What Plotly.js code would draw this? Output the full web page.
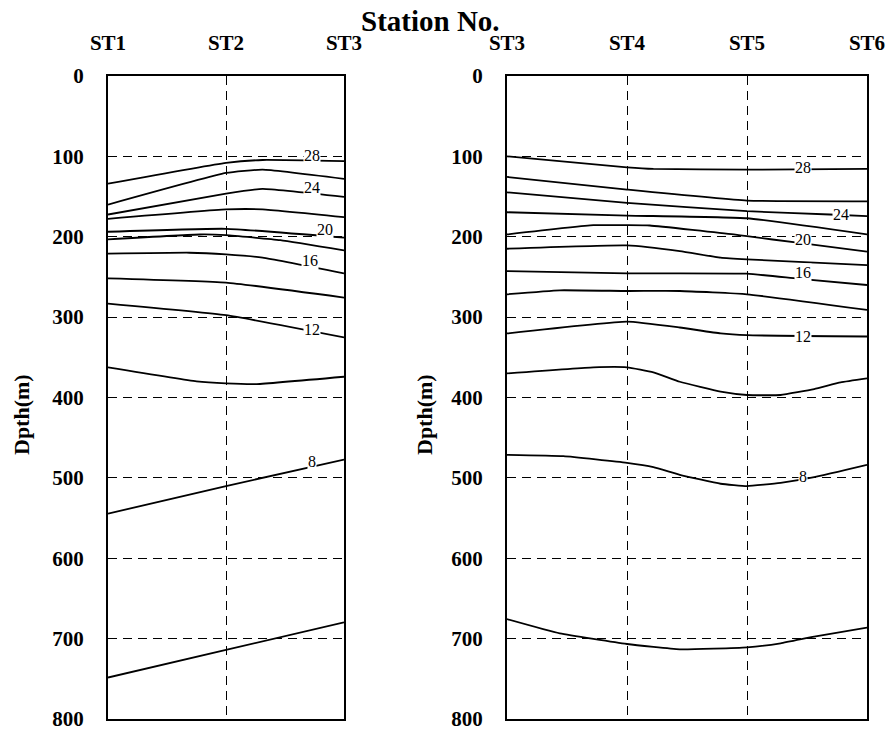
<!DOCTYPE html>
<html>
<head>
<meta charset="utf-8">
<script src="https://cdn.plot.ly/plotly-3.0.1.min.js"></script>
<style>html,body{margin:0;padding:0;background:#fff;}#chart{width:890px;height:735px;}</style>
</head>
<body>
<div id="chart"></div>
<script>
// Station tick labels
const leftStations = ["ST1", "ST2", "ST3"];
const leftStationPos = [1, 2, 3];
const rightStations = ["ST3", "ST4", "ST5", "ST6"];
const rightStationPos = [3, 4, 5, 6];
const depthTicks = [0, 100, 200, 300, 400, 500, 600, 700, 800];

// Left section (ST1-ST3): isotherm x positions (station units) and depths (m)
const L1x = [1, 2, 2.31, 3],            L1d = [134, 108, 104.5, 106];
const L2x = [1, 2, 2.31, 3],            L2d = [160, 120.6, 116.5, 128];
const L3x = [1, 2, 2.31, 3],            L3d = [172.3, 146.3, 140.4, 150.4];
const L4x = [1, 2, 2.31, 3],            L4d = [177.7, 166, 166, 175.7];
const L5x = [1, 2, 3],                  L5d = [193.8, 190.1, 201.2];
const L6x = [1, 1.78, 2, 2.46, 3],      L6d = [203.3, 197.2, 198, 204.2, 217];
const L7x = [1, 1.69, 2, 2.31, 3],      L7d = [221.1, 219.9, 222, 226, 245.5];
const L8x = [1, 2, 3],                  L8d = [251.7, 257, 275.7];
const L9x = [1, 2, 3],                  L9d = [283.1, 297.6, 325.3];
const L10x = [1, 1.75, 2, 2.26, 3],     L10d = [362.5, 379.9, 382.4, 383.3, 374.2];
const L11x = [1, 2, 3],                 L11d = [544.5, 510.2, 477.2];
const L12x = [1, 2, 3],                 L12d = [748.4, 714.1, 679.8];

// Right section (ST3-ST6)
const R1x = [3, 4, 4.22, 5, 6],                 R1d = [99.9, 113.6, 115.6, 116.5, 115.6];
const R2x = [3, 4, 5, 6],                       R2d = [125.6, 141.3, 155, 155.9];
const R3x = [3, 4, 5, 5.69, 6],                 R3d = [144.7, 157.8, 168.2, 172.3, 174.4];
const R4x = [3, 4, 5, 6],                       R4d = [169.5, 173.6, 177, 197.1];
const R5x = [3, 3.72, 4, 4.19, 4.89, 5, 5.42, 6], R5d = [197.1, 185.6, 185.6, 186, 197.1, 199.3, 207.4, 218.6];
const R6x = [3, 4, 4.44, 4.78, 5, 6],           R6d = [214.9, 210.8, 217.9, 226, 228.2, 235.2];
const R7x = [3, 4, 5, 5.42, 6],                 R7d = [242.7, 245.5, 246, 252.1, 260];
const R8x = [3, 3.44, 4, 4.44, 5, 6],           R8d = [271.6, 266.6, 267.5, 267.5, 271.6, 291.1];
const R9x = [3, 4, 4.44, 4.78, 5, 6],           R9d = [320.3, 305.5, 312.9, 320.3, 322.5, 324.1];
const R10x = [3, 3.72, 4, 4.22, 4.44, 4.78, 5, 5.28, 5.56, 5.78, 6];
const R10d = [370, 362.5, 362.5, 368.7, 380.4, 392.8, 396.9, 396.9, 389.5, 381.2, 376.2];
const R11x = [3, 3.47, 4, 4.22, 4.44, 4.78, 5, 5.28, 5.56, 6];
const R11d = [471.3, 473, 481.3, 486.6, 496.2, 507.3, 510.2, 506.1, 499, 483.7];
const R12x = [3, 3.44, 4, 4.44, 5, 5.28, 5.56, 6];
const R12d = [675.7, 693.4, 706.7, 713.3, 710.8, 705.8, 697.5, 686.3];

// Contour labels
const labelText = ["28", "24", "20", "16", "12", "8"];
const leftLabelX = [2.73, 2.73, 2.84, 2.71, 2.73, 2.73];
const leftLabelD = [99, 139, 191, 230, 315, 480];
const rightLabelX = [5.47, 5.78, 5.47, 5.47, 5.47, 5.47];
const rightLabelD = [114.4, 172.3, 204, 244.7, 324, 497.8];

const leftLines = [[L1x,L1d],[L2x,L2d],[L3x,L3d],[L4x,L4d],[L5x,L5d],[L6x,L6d],[L7x,L7d],[L8x,L8d],[L9x,L9d],[L10x,L10d],[L11x,L11d],[L12x,L12d]];
const rightLines = [[R1x,R1d],[R2x,R2d],[R3x,R3d],[R4x,R4d],[R5x,R5d],[R6x,R6d],[R7x,R7d],[R8x,R8d],[R9x,R9d],[R10x,R10d],[R11x,R11d],[R12x,R12d]];

const lineStyle = {color: "#000", width: 1.8, shape: "spline", smoothing: 0.4};
const traces = [];
leftLines.forEach(p => traces.push({x: p[0], y: p[1], type: "scatter", mode: "lines", line: lineStyle, xaxis: "x", yaxis: "y", showlegend: false, hoverinfo: "skip"}));
rightLines.forEach(p => traces.push({x: p[0], y: p[1], type: "scatter", mode: "lines", line: lineStyle, xaxis: "x2", yaxis: "y2", showlegend: false, hoverinfo: "skip"}));

const serif = "Liberation Serif";
const W = 890, H = 735;
const yDom = [(H - 719) / H, (H - 76) / H];
const tickFont = () => ({family: serif, size: 21, color: "#000"});
const serifText = s => '<span style="font-family:\'Liberation Serif\',serif;font-weight:bold">' + s + '</span>';

function xAxis(dom, rng, vals, texts) {
  return {domain: dom, range: rng, tickvals: vals, ticktext: texts.map(serifText), side: "top",
    showgrid: true, gridcolor: "#000", gridwidth: 1, griddash: "9px,6px",
    showline: true, mirror: true, linecolor: "#000", linewidth: 2,
    ticks: "", ticklabelstandoff: 16, tickfont: tickFont(),
    zeroline: false, fixedrange: true, automargin: false};
}
function yAxis(anchor) {
  return {domain: yDom, range: [800, 0], tickvals: depthTicks, ticktext: depthTicks.map(v => serifText(String(v))), anchor: anchor,
    showgrid: true, gridcolor: "#000", gridwidth: 1, griddash: "9px,6px",
    showline: true, mirror: true, linecolor: "#000", linewidth: 2,
    ticks: "", ticklabelstandoff: 18, tickfont: tickFont(),
    zeroline: false, fixedrange: true, automargin: false};
}

const annotations = [];
labelText.forEach((t, i) => {
  annotations.push({x: leftLabelX[i], y: leftLabelD[i], xref: "x", yref: "y", text: t, showarrow: false,
    font: {family: serif, size: 16, color: "#000"}, bgcolor: "#fff", borderpad: 0});
  annotations.push({x: rightLabelX[i], y: rightLabelD[i], xref: "x2", yref: "y2", text: t, showarrow: false,
    font: {family: serif, size: 16, color: "#000"}, bgcolor: "#fff", borderpad: 0});
});
annotations.push({x: 430 / W, y: 1 - 21 / H, xref: "paper", yref: "paper", text: "<b>Station No.</b>", showarrow: false,
  font: {family: serif, size: 29, color: "#000"}, xanchor: "center", yanchor: "middle"});
annotations.push({x: 22 / W, y: 1 - 415 / H, xref: "paper", yref: "paper", text: "<b>Dpth(m)</b>", showarrow: false, textangle: -90,
  font: {family: serif, size: 22, color: "#000"}, xanchor: "center", yanchor: "middle"});
annotations.push({x: 425 / W, y: 1 - 415 / H, xref: "paper", yref: "paper", text: "<b>Dpth(m)</b>", showarrow: false, textangle: -90,
  font: {family: serif, size: 22, color: "#000"}, xanchor: "center", yanchor: "middle"});

const layout = {
  width: W, height: H,
  margin: {l: 0, r: 0, t: 0, b: 0},
  font: {family: serif, color: "#000"},
  paper_bgcolor: "#fff", plot_bgcolor: "#fff",
  showlegend: false,
  xaxis: xAxis([108 / W, 344 / W], [1, 3], leftStationPos, leftStations),
  xaxis2: xAxis([507 / W, 867 / W], [3, 6], rightStationPos, rightStations),
  yaxis: yAxis("x"),
  yaxis2: yAxis("x2"),
  annotations: annotations
};
layout.xaxis.anchor = "y";
layout.xaxis2.anchor = "y2";

Plotly.newPlot("chart", traces, layout, {staticPlot: true, displayModeBar: false});
</script>
</body>
</html>
